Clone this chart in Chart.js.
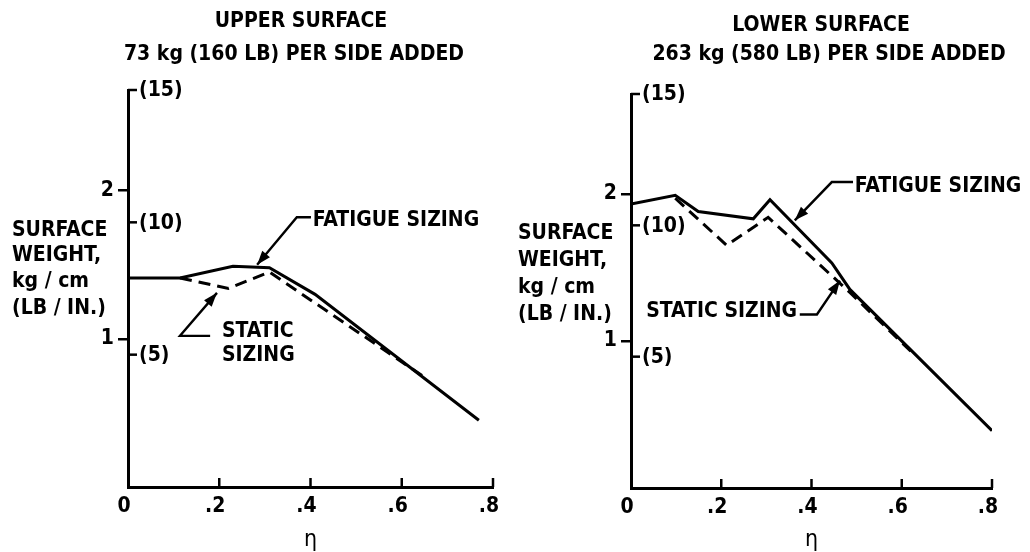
<!DOCTYPE html>
<html>
<head>
<meta charset="utf-8">
<script src="https://cdn.jsdelivr.net/npm/chart.js@4.4.1/dist/chart.umd.min.js"></script>
<style>
  html, body { margin: 0; padding: 0; background: #fff; }
  .panel { position: absolute; top: 0; width: 515px; height: 552px; }
</style>
</head>
<body>
<div class="panel" style="left:0"><canvas id="upper" width="515" height="552"></canvas></div>
<div class="panel" style="left:515px"><canvas id="lower" width="515" height="552"></canvas></div>
<script>
const FONT = "'Liberation Sans Narrow', 'DejaVu Sans Condensed', 'Liberation Sans', sans-serif";
const LB_TO_KG = 0.17858;   // 1 lb/in in kg/cm

// Axis ticks
const etaTicks = [0, 0.2, 0.4, 0.6, 0.8];
const kgTicks = [1, 2];
const lbTicks = [5, 10, 15];

// Upper surface (eta, kg/cm)
const upperFatigueEta = [0, 0.114, 0.23, 0.31, 0.41, 0.769];
const upperFatigue    = [1.41, 1.41, 1.49, 1.48, 1.30, 0.45];
const upperStaticEta  = [0.114, 0.22, 0.31, 0.65];
const upperStatic     = [1.41, 1.34, 1.45, 0.74];

// Lower surface (eta, kg/cm)
const lowerFatigueEta = [0, 0.098, 0.149, 0.271, 0.308, 0.445, 0.485, 0.80];
const lowerFatigue    = [1.93, 1.99, 1.88, 1.83, 1.96, 1.53, 1.35, 0.39];
const lowerStaticEta  = [0.098, 0.212, 0.304, 0.485, 0.62];
const lowerStatic     = [1.97, 1.65, 1.84, 1.33, 0.93];

const panels = {
  upper: {
    title: ['UPPER SURFACE', '73 kg (160 LB) PER SIDE ADDED'],
    titlePos: [[301, 22], [294, 55]],
    yTitlePos: [12, [231, 256, 282, 309]],
    area: { left: 128, right: 493, top: 90, bottom: 487 },
    fatigueEta: upperFatigueEta, fatigue: upperFatigue,
    staticEta: upperStaticEta, staticVals: upperStatic,
    notes: [
      { lines: ['FATIGUE SIZING'], at: [0.405, 1.80], align: 'left',
        path: [[0.401, 1.82], [0.370, 1.82], [0.283, 1.50]] },
      { lines: ['STATIC', 'SIZING'], at: [0.206, 1.046], align: 'left',
        path: [[0.180, 1.02], [0.114, 1.02], [0.195, 1.31]] }
    ]
  },
  lower: {
    title: ['LOWER SURFACE', '263 kg (580 LB) PER SIDE ADDED'],
    titlePos: [[306, 26], [314, 55]],
    yTitlePos: [3, [234, 261, 288, 315]],
    area: { left: 116, right: 477, top: 94, bottom: 488 },
    fatigueEta: lowerFatigueEta, fatigue: lowerFatigue,
    staticEta: lowerStaticEta, staticVals: lowerStatic,
    notes: [
      { lines: ['FATIGUE SIZING'], at: [0.496, 2.05], align: 'left',
        path: [[0.492, 2.08], [0.445, 2.08], [0.363, 1.82]] },
      { lines: ['STATIC SIZING'], at: [0.368, 1.20], align: 'right',
        path: [[0.374, 1.18], [0.412, 1.18], [0.463, 1.41]] }
    ]
  }
};

const yTitle = ['SURFACE', 'WEIGHT,', 'kg / cm', '(LB / IN.)'];

function font(size) {
  return `bold ${size}px ${FONT}`;
}

// draws everything that is not a data line: inner ticks, pound labels, titles, callouts
const decor = (cfg) => ({
  id: 'decor',
  afterDraw: (chart) => {
    const ctx = chart.ctx;
    const a = chart.chartArea;
    const xs = chart.scales.x;
    const ys = chart.scales.y;
    const P = (e, v) => [xs.getPixelForValue(e), ys.getPixelForValue(v)];

    ctx.save();
    ctx.fillStyle = '#000';
    ctx.strokeStyle = '#000';
    ctx.lineWidth = 2.5;

    // eta ticks point up into the plot
    etaTicks.slice(1).forEach(v => {
      const px = xs.getPixelForValue(v);
      ctx.beginPath();
      ctx.moveTo(px, a.bottom);
      ctx.lineTo(px, a.bottom - 9);
      ctx.stroke();
    });

    // lb/in ticks on the inner side of the axis
    ctx.font = font(21);
    ctx.textBaseline = 'middle';
    ctx.textAlign = 'left';
    lbTicks.forEach(lb => {
      const py = ys.getPixelForValue(lb * LB_TO_KG);
      ctx.beginPath();
      ctx.moveTo(a.left, py);
      ctx.lineTo(a.left + 9, py);
      ctx.stroke();
      ctx.fillText('(' + lb + ')', a.left + 11, py + 1);
    });

    // titles
    ctx.textAlign = 'center';
    cfg.title.forEach((t, i) => ctx.fillText(t, cfg.titlePos[i][0], cfg.titlePos[i][1]));

    // y axis title
    ctx.textAlign = 'left';
    yTitle.forEach((t, i) => ctx.fillText(t, cfg.yTitlePos[0], cfg.yTitlePos[1][i]));

    // eta
    ctx.textAlign = 'center';
    ctx.font = `23px ${FONT}`;
    ctx.fillText('\u03b7', (a.left + a.right) / 2, 540);

    // callouts
    ctx.font = font(21);
    cfg.notes.forEach(n => {
      const [tx, ty] = P(n.at[0], n.at[1]);
      ctx.textAlign = n.align;
      n.lines.forEach((l, i) => ctx.fillText(l, tx, ty + i * 24));

      const pts = n.path.map(p => P(p[0], p[1]));
      ctx.lineWidth = 2.4;
      ctx.beginPath();
      pts.forEach((p, i) => i ? ctx.lineTo(p[0], p[1]) : ctx.moveTo(p[0], p[1]));
      ctx.stroke();

      // arrow head at the last point
      const [x1, y1] = pts[pts.length - 2];
      const [x2, y2] = pts[pts.length - 1];
      const ang = Math.atan2(y2 - y1, x2 - x1);
      ctx.beginPath();
      ctx.moveTo(x2, y2);
      ctx.lineTo(x2 - 14 * Math.cos(ang) + 5 * Math.sin(ang), y2 - 14 * Math.sin(ang) - 5 * Math.cos(ang));
      ctx.lineTo(x2 - 14 * Math.cos(ang) - 5 * Math.sin(ang), y2 - 14 * Math.sin(ang) + 5 * Math.cos(ang));
      ctx.closePath();
      ctx.fill();
    });

    ctx.restore();
  }
});

function makeChart(id) {
  const cfg = panels[id];
  const canvas = document.getElementById(id);
  const W = canvas.width, H = canvas.height;
  const a = cfg.area;

  return new Chart(canvas.getContext('2d'), {
    type: 'line',
    data: {
      datasets: [
        {
          label: 'Fatigue sizing',
          data: cfg.fatigueEta.map((e, i) => ({ x: e, y: cfg.fatigue[i] })),
          borderColor: '#000',
          borderWidth: 3,
          pointRadius: 0,
          tension: 0,
          fill: false
        },
        {
          label: 'Static sizing',
          data: cfg.staticEta.map((e, i) => ({ x: e, y: cfg.staticVals[i] })),
          borderColor: '#000',
          borderWidth: 3,
          borderDash: [12, 7],
          pointRadius: 0,
          tension: 0,
          fill: false
        }
      ]
    },
    options: {
      responsive: false,
      animation: false,
      layout: {
        padding: { left: 0, right: W - a.right, top: a.top, bottom: 0 }
      },
      plugins: {
        legend: { display: false },
        tooltip: { enabled: false }
      },
      scales: {
        x: {
          type: 'linear',
          min: 0,
          max: 0.8,
          afterBuildTicks: (s) => { s.ticks = etaTicks.map(v => ({ value: v })); },
          afterFit: (s) => { s.height = H - a.bottom; },
          grid: { display: false, drawTicks: false },
          border: { display: true, color: '#000', width: 3 },
          ticks: {
            color: '#000',
            font: { family: FONT, size: 21, weight: 'bold' },
            padding: 7,
            labelOffset: -4,
            maxRotation: 0,
            autoSkip: false,
            callback: (v) => v === 0 ? '0' : '.' + Math.round(v * 10)
          }
        },
        y: {
          type: 'linear',
          min: 0,
          max: 15 * LB_TO_KG,
          afterBuildTicks: (s) => { s.ticks = kgTicks.map(v => ({ value: v })); },
          afterFit: (s) => { s.width = a.left; },
          grid: { display: true, drawOnChartArea: false, drawTicks: true, tickLength: 10, color: '#000', lineWidth: 2.5 },
          border: { display: true, color: '#000', width: 3 },
          ticks: {
            color: '#000',
            font: { family: FONT, size: 21, weight: 'bold' },
            padding: 4,
            callback: (v) => String(v)
          }
        }
      }
    },
    plugins: [decor(cfg)]
  });
}

makeChart('upper');
makeChart('lower');
</script>
</body>
</html>
